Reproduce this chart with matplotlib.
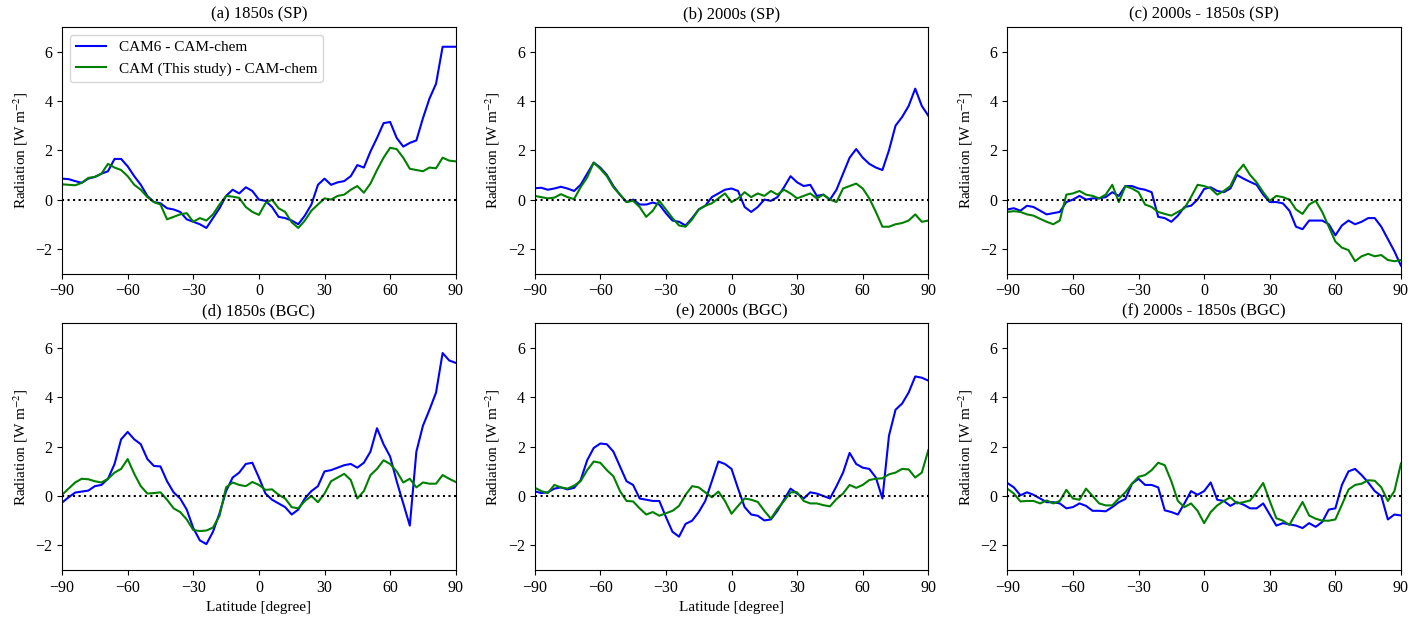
import matplotlib
matplotlib.use('Agg')
import matplotlib.pyplot as plt

plt.rcParams['font.family'] = ['Liberation Serif', 'DejaVu Serif']
plt.rcParams['mathtext.fontset'] = 'stix'
plt.rcParams['font.size'] = 11

lat = list(range(-90, 91, 3))

# (a) 1850s (SP)
a_cam6 = [0.85, 0.83, 0.75, 0.68, 0.85, 0.92, 1.05, 1.15, 1.65, 1.65, 1.35, 0.95, 0.6, 0.15, -0.1, -0.15,
          -0.35, -0.4, -0.5, -0.8, -0.9, -1.0, -1.15, -0.75, -0.35, 0.15, 0.4, 0.25, 0.5, 0.35, 0.0,
          -0.05, -0.3, -0.7, -0.75, -0.85, -1.0, -0.65, -0.2, 0.6, 0.85, 0.6, 0.7, 0.75, 0.95, 1.4,
          1.3, 1.95, 2.5, 3.1, 3.15, 2.5, 2.15, 2.3, 2.4, 3.3, 4.1, 4.7, 6.2, 6.2, 6.2]
a_this = [0.62, 0.6, 0.58, 0.68, 0.88, 0.92, 1.05, 1.45, 1.3, 1.2, 0.95, 0.6, 0.4, 0.1, -0.1, -0.2,
          -0.8, -0.7, -0.6, -0.55, -0.9, -0.75, -0.85, -0.6, -0.2, 0.15, 0.12, 0.07, -0.3, -0.5, -0.62,
          -0.15, 0.0, -0.35, -0.5, -0.92, -1.15, -0.85, -0.45, -0.2, 0.05, 0.0, 0.15, 0.2, 0.4, 0.55,
          0.28, 0.65, 1.2, 1.7, 2.1, 2.05, 1.7, 1.25, 1.2, 1.15, 1.3, 1.27, 1.7, 1.58, 1.55]

# (b) 2000s (SP)
b_cam6 = [0.46, 0.48, 0.4, 0.45, 0.52, 0.45, 0.35, 0.6, 1.05, 1.5, 1.3, 1.0, 0.55, 0.2, -0.1, 0.0,
          -0.2, -0.2, -0.12, -0.2, -0.55, -0.85, -0.9, -1.05, -0.75, -0.4, -0.25, 0.1, 0.25, 0.4, 0.45,
          0.35, -0.3, -0.5, -0.3, 0.0, -0.05, 0.1, 0.5, 0.95, 0.7, 0.55, 0.6, 0.15, 0.2, 0.0,
          0.4, 1.05, 1.7, 2.05, 1.7, 1.45, 1.3, 1.2, 2.0, 3.0, 3.35, 3.8, 4.5, 3.8, 3.4]
b_this = [0.15, 0.1, 0.05, 0.08, 0.22, 0.1, 0.02, 0.5, 0.9, 1.5, 1.25, 0.95, 0.5, 0.2, -0.1, -0.05,
          -0.3, -0.7, -0.45, -0.05, -0.4, -0.75, -1.05, -1.1, -0.8, -0.4, -0.25, -0.15, 0.05, 0.25, -0.1,
          0.05, 0.3, 0.1, 0.25, 0.15, 0.35, 0.2, 0.4, 0.25, 0.05, 0.15, 0.25, 0.05, 0.2, 0.0,
          -0.1, 0.45, 0.55, 0.65, 0.45, 0.05, -0.5, -1.1, -1.1, -1.0, -0.95, -0.85, -0.6, -0.9, -0.85]

# (c) 2000s - 1850s (SP)
c_cam6 = [-0.4, -0.35, -0.45, -0.25, -0.3, -0.45, -0.6, -0.55, -0.5, -0.1, 0.0, 0.15, 0.0, 0.05, 0.05, 0.1,
          0.3, 0.15, 0.55, 0.55, 0.45, 0.4, 0.3, -0.7, -0.75, -0.9, -0.65, -0.3, -0.25, 0.0, 0.43,
          0.5, 0.35, 0.3, 0.45, 1.0, 0.85, 0.72, 0.6, 0.2, -0.1, -0.1, -0.15, -0.45, -1.1, -1.2,
          -0.85, -0.85, -0.85, -1.0, -1.45, -1.05, -0.85, -1.0, -0.9, -0.75, -0.75, -1.1, -1.6, -2.1, -2.68]
c_this = [-0.5, -0.47, -0.5, -0.6, -0.65, -0.78, -0.9, -1.0, -0.85, 0.2, 0.25, 0.35, 0.2, 0.15, 0.05, 0.2,
          0.6, -0.1, 0.55, 0.45, 0.3, -0.2, -0.3, -0.5, -0.58, -0.65, -0.5, -0.35, 0.1, 0.6, 0.55,
          0.45, 0.2, 0.35, 0.55, 1.1, 1.42, 1.0, 0.7, 0.3, -0.05, 0.15, 0.1, 0.0, -0.4, -0.58,
          -0.2, -0.05, -0.5, -1.1, -1.7, -1.95, -2.05, -2.5, -2.3, -2.2, -2.3, -2.25, -2.45, -2.5, -2.45]

# (d) 1850s (BGC)
d_cam6 = [-0.27, -0.05, 0.14, 0.18, 0.22, 0.4, 0.45, 0.7, 1.3, 2.3, 2.6, 2.3, 2.1, 1.5, 1.22, 1.2,
          0.6, 0.15, -0.1, -0.55, -1.3, -1.8, -1.95, -1.45, -0.7, 0.2, 0.75, 0.95, 1.3, 1.35, 0.75,
          0.1, -0.15, -0.3, -0.45, -0.75, -0.55, -0.1, 0.2, 0.4, 1.0, 1.05, 1.15, 1.25, 1.3, 1.15,
          1.35, 1.8, 2.75, 2.1, 1.6, 0.6, -0.3, -1.2, 1.8, 2.85, 3.5, 4.2, 5.8, 5.5, 5.4]
d_this = [0.05, 0.3, 0.55, 0.7, 0.68, 0.6, 0.55, 0.7, 0.95, 1.1, 1.5, 0.9, 0.4, 0.1, 0.12, 0.15,
          -0.15, -0.5, -0.65, -0.95, -1.38, -1.42, -1.4, -1.28, -0.8, 0.35, 0.55, 0.45, 0.4, 0.57, 0.45,
          0.25, 0.27, 0.05, -0.1, -0.45, -0.5, -0.2, 0.0, -0.25, 0.1, 0.6, 0.75, 0.9, 0.65, -0.1,
          0.2, 0.85, 1.1, 1.45, 1.3, 1.0, 0.55, 0.7, 0.35, 0.55, 0.5, 0.5, 0.85, 0.7, 0.57]

# (e) 2000s (BGC)
e_cam6 = [0.19, 0.12, 0.15, 0.3, 0.35, 0.27, 0.33, 0.64, 1.45, 1.95, 2.13, 2.1, 1.8, 1.2, 0.6, 0.45,
          -0.1, -0.15, -0.2, -0.2, -0.85, -1.45, -1.65, -1.13, -1.0, -0.65, -0.2, 0.6, 1.4, 1.3, 1.1,
          0.3, -0.45, -0.75, -0.8, -0.99, -0.95, -0.6, -0.15, 0.3, 0.1, -0.1, 0.15, 0.1, 0.0, -0.1,
          0.4, 0.95, 1.75, 1.3, 1.15, 1.1, 0.75, -0.1, 2.45, 3.5, 3.75, 4.2, 4.85, 4.8, 4.68]
e_this = [0.34, 0.2, 0.12, 0.45, 0.35, 0.3, 0.42, 0.6, 1.05, 1.4, 1.35, 1.05, 0.8, 0.2, -0.2, -0.22,
          -0.5, -0.75, -0.65, -0.8, -0.7, -0.6, -0.4, 0.05, 0.4, 0.35, 0.15, -0.05, 0.18, -0.2, -0.72,
          -0.4, -0.1, -0.15, -0.24, -0.6, -0.92, -0.52, -0.2, 0.15, 0.15, -0.2, -0.3, -0.3, -0.37, -0.42,
          -0.12, 0.1, 0.45, 0.33, 0.45, 0.65, 0.7, 0.72, 0.88, 0.95, 1.1, 1.08, 0.75, 0.95, 1.86]

# (f) 2000s - 1850s (BGC)
f_cam6 = [0.53, 0.35, 0.03, 0.15, 0.05, -0.1, -0.25, -0.25, -0.3, -0.5, -0.45, -0.3, -0.4, -0.6, -0.6, -0.62,
          -0.45, -0.25, -0.12, 0.5, 0.7, 0.45, 0.45, 0.35, -0.58, -0.65, -0.75, -0.3, 0.2, 0.05, 0.2,
          0.55, -0.15, -0.2, -0.4, -0.25, -0.35, -0.5, -0.5, -0.3, -0.75, -1.2, -1.1, -1.15, -1.2, -1.3,
          -1.1, -1.25, -1.05, -0.55, -0.5, 0.45, 1.0, 1.1, 0.85, 0.55, 0.2, 0.0, -0.95, -0.75, -0.79]
f_this = [0.3, 0.1, -0.22, -0.2, -0.2, -0.3, -0.18, -0.3, -0.2, 0.25, -0.1, -0.15, 0.3, 0.0, -0.3, -0.38,
          -0.38, -0.1, 0.15, 0.5, 0.78, 0.85, 1.05, 1.35, 1.25, 0.6, -0.2, -0.45, -0.3, -0.6, -1.1,
          -0.65, -0.38, -0.2, -0.05, -0.3, -0.25, -0.18, 0.15, 0.53, -0.2, -0.9, -1.0, -1.17, -0.7, -0.24,
          -0.79, -0.92, -1.0, -1.0, -0.95, -0.35, 0.26, 0.45, 0.5, 0.64, 0.62, 0.35, -0.2, 0.2, 1.32]

titles = ['(a) 1850s (SP)', '(b) 2000s (SP)', '(c) 2000s - 1850s (SP)',
          '(d) 1850s (BGC)', '(e) 2000s (BGC)', '(f) 2000s - 1850s (BGC)']
cam6_list = [a_cam6, b_cam6, c_cam6, d_cam6, e_cam6, f_cam6]
this_list = [a_this, b_this, c_this, d_this, e_this, f_this]

fig, axes = plt.subplots(2, 3, figsize=(14.2, 6.17), dpi=100)
fig.subplots_adjust(left=0.0437, right=0.9866, top=0.9562, bottom=0.0762,
                    wspace=0.2005, hspace=0.2024)

for i, ax in enumerate(axes.flat):
    ax.plot(lat, cam6_list[i], color='blue', lw=1.5, label='CAM6 - CAM-chem')
    ax.plot(lat, this_list[i], color='green', lw=1.5, label='CAM (This study) - CAM-chem')
    ax.axhline(0, color='k', ls=':', lw=1.5)
    ax.set_xlim(-90, 90)
    ax.set_ylim(-3, 7)
    ax.set_xticks(range(-90, 91, 30))
    ax.set_yticks(range(-2, 7, 2))
    ax.tick_params(labelsize=11.5)
    ax.set_title(titles[i], fontsize=12)
    ax.set_ylabel('Radiation [W m$^{-2}$]', fontsize=11)
    if i in (3, 4):
        ax.set_xlabel('Latitude [degree]', fontsize=11)
    if i == 0:
        ax.legend(loc='upper left', fontsize=11)

plt.savefig('out.png', dpi=100)
